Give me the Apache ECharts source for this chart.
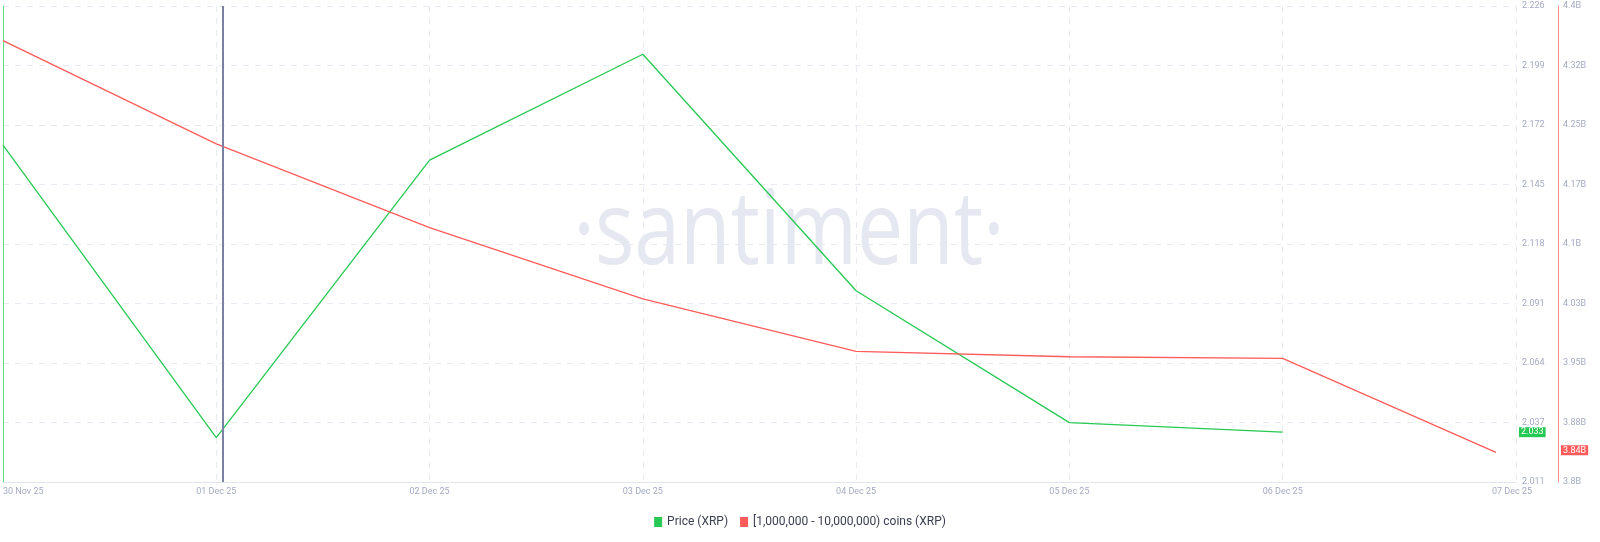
<!DOCTYPE html>
<html>
<head>
<meta charset="utf-8">
<script src="https://cdn.jsdelivr.net/npm/echarts@6/dist/echarts.min.js"></script>
<style>
html,body{margin:0;padding:0;background:#fff;}
#chart{width:1600px;height:542px;}
</style>
</head>
<body>
<div id="chart"></div>
<script>
// ---- data ----
const dayOffsets = [0, 1, 2, 3, 4, 5, 6, 7];
const dateLabels = ['30 Nov 25', '01 Dec 25', '02 Dec 25', '03 Dec 25', '04 Dec 25', '05 Dec 25', '06 Dec 25', '07 Dec 25'];
const priceValues = [2.1627, 2.0305, 2.1559, 2.2037, 2.0969, 2.0373, 2.033];
const holderValues = [4.3563, 4.2262, 4.1207, 4.0307, 3.9647, 3.9579, 3.9559, 3.8374]; // billions
const priceTicks = ['2.011', '2.037', '2.064', '2.091', '2.118', '2.145', '2.172', '2.199', '2.226'];
const holderTicks = ['3.8B', '3.88B', '3.95B', '4.03B', '4.1B', '4.17B', '4.25B', '4.32B', '4.4B'];
const priceLast = [2.033];
const priceLastLabel = '2.033';
const holderLast = [3.84];
const holderLastLabel = '3.84B';
const cursorDay = [1.027];
const seriesNames = ['Price (XRP)', '[1,000,000 - 10,000,000) coins (XRP)'];

const priceMin = 2.0105, priceMax = 2.2255, priceInt = (priceMax - priceMin) / 8;
const holdMin = 3.8, holdMax = 4.4, holdInt = 0.075;
const xMax = 7.094;

const GREEN = '#26c953', RED = '#ff5b5b', LABEL = '#a4a9c2', GRID = '#e8eaf2';

const chart = echarts.init(document.getElementById('chart'));
chart.setOption({
  animation: false,
  backgroundColor: '#fff',
  grid: { left: 0, right: 84, top: 6, bottom: 60, containLabel: false },
  legend: {
    bottom: 9, left: 'center',
    itemWidth: 8, itemHeight: 10, itemGap: 12,
    icon: 'rect',
    textStyle: { fontSize: 12, color: '#3a3d4f', fontFamily: 'Roboto' },
    data: seriesNames
  },
  graphic: [{
    type: 'text', silent: true, z: -10,
    x: 789, y: 235, scaleX: 0.8,
    style: {
      text: '\u00b7santiment\u00b7', fontSize: 103, fontFamily: 'Open Sans',
      fill: '#e5e7f1', textAlign: 'center', textVerticalAlign: 'middle'
    }
  }],
  xAxis: {
    type: 'value', min: 0, max: xMax, interval: 1,
    axisLine: { show: true, lineStyle: { color: '#e3e5ec', width: 1 } },
    axisTick: { show: false },
    splitLine: { show: true, lineStyle: { color: [GRID, GRID, GRID, GRID, GRID, GRID, GRID, 'rgba(0,0,0,0)'], type: [6, 6], width: 1 } },
    axisLabel: {
      color: LABEL, fontSize: 9, fontFamily: 'Roboto', margin: 5,
      alignMinLabel: 'left', showMaxLabel: false,
      formatter: function (v) {
        const i = Math.round(v);
        if (i === dateLabels.length - 1) return '{last|' + dateLabels[i] + '}';
        return dateLabels[i] || '';
      },
      rich: { last: { color: LABEL, fontSize: 9, fontFamily: 'Roboto', padding: [0, 0, 0, 32] } }
    }
  },
  yAxis: [
    {
      type: 'value', position: 'right', offset: 0,
      min: priceMin, max: priceMax, interval: priceInt,
      axisLine: { show: true, lineStyle: { color: '#5fdc80', width: 1 } },
      axisTick: { show: false },
      splitLine: { show: true, lineStyle: { color: GRID, type: [6, 6], width: 1 } },
      axisLabel: {
        color: LABEL, fontSize: 9, fontFamily: 'Roboto', margin: 6,
        formatter: function (v) { return priceTicks[Math.round((v - priceMin) / priceInt)] || ''; }
      }
    },
    {
      type: 'value', position: 'right', offset: 42,
      min: holdMin, max: holdMax, interval: holdInt,
      axisLine: { show: true, lineStyle: { color: '#ff8a8a', width: 1 } },
      axisTick: { show: false },
      splitLine: { show: false },
      axisLabel: {
        color: LABEL, fontSize: 9, fontFamily: 'Roboto', margin: 5,
        formatter: function (v) { return holderTicks[Math.round((v - holdMin) / holdInt)] || ''; }
      }
    },
    {
      type: 'value', position: 'right', offset: 0,
      min: priceMin, max: priceMax,
      axisLine: { show: false }, axisTick: { show: false }, splitLine: { show: false },
      axisLabel: {
        customValues: priceLast, margin: 3,
        color: '#fff', fontSize: 9, fontFamily: 'Roboto',
        backgroundColor: GREEN, padding: [1, 2, 0, 2],
        formatter: function () { return priceLastLabel; }
      }
    },
    {
      type: 'value', position: 'right', offset: 42,
      min: holdMin, max: holdMax,
      axisLine: { show: false }, axisTick: { show: false }, splitLine: { show: false },
      axisLabel: {
        customValues: holderLast, margin: 3,
        color: '#fff', fontSize: 9, fontFamily: 'Roboto',
        backgroundColor: RED, padding: [1, 2, 0, 2],
        formatter: function () { return holderLastLabel; }
      }
    }
  ],
  series: [
    {
      name: seriesNames[0], type: 'line', yAxisIndex: 0, z: 3,
      showSymbol: false, symbol: 'none',
      lineStyle: { color: GREEN, width: 1.3 }, itemStyle: { color: GREEN },
      data: priceValues.map((v, i) => [dayOffsets[i], v]),
      markLine: {
        silent: true, symbol: 'none', label: { show: false },
        lineStyle: { color: '#7c81a3', width: 2, type: 'solid' },
        data: cursorDay.map(d => ({ xAxis: d }))
      }
    },
    {
      name: seriesNames[1], type: 'line', yAxisIndex: 1, z: 3,
      showSymbol: false, symbol: 'none',
      lineStyle: { color: RED, width: 1.3 }, itemStyle: { color: RED },
      data: holderValues.map((v, i) => [dayOffsets[i], v])
    }
  ]
});
</script>
</body>
</html>
